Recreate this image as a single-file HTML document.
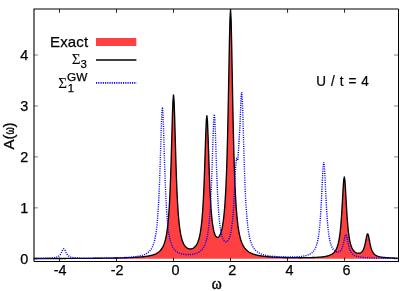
<!DOCTYPE html>
<html><head><meta charset="utf-8"><style>
html,body{margin:0;padding:0;background:#fff;}
svg{display:block;}
text{font-family:"Liberation Sans",sans-serif;font-size:14.4px;fill:#000;stroke:#000;stroke-width:0.25px;}
.ser{font-family:"Liberation Serif",serif;}
</style></head><body>
<svg width="415" height="291" viewBox="0 0 415 291">
<defs><filter id="idf" x="0" y="0" width="415" height="291" filterUnits="userSpaceOnUse" color-interpolation-filters="sRGB"><feOffset dx="0" dy="0"/></filter></defs>
<rect width="415" height="291" fill="#fff"/>
<path d="M33.81 258.53 L34.38 258.53 L34.95 258.53 L35.52 258.53 L36.09 258.53 L36.66 258.53 L37.23 258.53 L37.80 258.53 L38.37 258.53 L38.94 258.52 L39.51 258.52 L40.08 258.52 L40.65 258.52 L41.22 258.52 L41.79 258.52 L42.36 258.52 L42.93 258.51 L43.50 258.51 L44.07 258.51 L44.64 258.51 L45.21 258.51 L45.79 258.51 L46.36 258.51 L46.93 258.51 L47.50 258.50 L48.07 258.50 L48.64 258.50 L49.21 258.50 L49.78 258.50 L50.35 258.50 L50.92 258.49 L51.49 258.49 L52.06 258.49 L52.63 258.49 L53.20 258.49 L53.77 258.49 L54.34 258.48 L54.91 258.48 L55.48 258.48 L56.05 258.48 L56.62 258.48 L57.19 258.48 L57.76 258.47 L58.33 258.47 L58.90 258.47 L59.47 258.47 L60.04 258.47 L60.61 258.46 L61.18 258.46 L61.75 258.46 L62.32 258.46 L62.89 258.46 L63.46 258.45 L64.03 258.45 L64.60 258.45 L65.17 258.45 L65.74 258.45 L66.31 258.44 L66.88 258.44 L67.45 258.44 L68.02 258.44 L68.59 258.43 L69.16 258.43 L69.73 258.43 L70.30 258.43 L70.87 258.42 L71.44 258.42 L72.01 258.42 L72.58 258.42 L73.15 258.41 L73.72 258.41 L74.30 258.41 L74.87 258.41 L75.44 258.40 L76.01 258.40 L76.58 258.40 L77.15 258.39 L77.72 258.39 L78.29 258.39 L78.86 258.39 L79.43 258.38 L80.00 258.38 L80.57 258.38 L81.14 258.37 L81.71 258.37 L82.28 258.37 L82.85 258.36 L83.42 258.36 L83.99 258.36 L84.56 258.35 L85.13 258.35 L85.70 258.34 L86.27 258.34 L86.84 258.34 L87.41 258.33 L87.98 258.33 L88.55 258.33 L89.12 258.32 L89.69 258.32 L90.26 258.31 L90.83 258.31 L91.40 258.30 L91.97 258.30 L92.54 258.30 L93.11 258.29 L93.68 258.29 L94.25 258.28 L94.82 258.28 L95.39 258.27 L95.96 258.27 L96.53 258.26 L97.10 258.26 L97.67 258.25 L98.24 258.24 L98.81 258.24 L99.38 258.23 L99.95 258.23 L100.52 258.22 L101.09 258.22 L101.66 258.21 L102.23 258.20 L102.81 258.20 L103.38 258.19 L103.95 258.18 L104.52 258.18 L105.09 258.17 L105.66 258.16 L106.23 258.15 L106.80 258.15 L107.37 258.14 L107.94 258.13 L108.51 258.12 L109.08 258.12 L109.65 258.11 L110.22 258.10 L110.79 258.09 L111.36 258.08 L111.93 258.07 L112.50 258.06 L113.07 258.05 L113.64 258.04 L114.21 258.03 L114.78 258.02 L115.35 258.01 L115.92 258.00 L116.49 257.99 L117.06 257.98 L117.63 257.97 L118.20 257.95 L118.77 257.94 L119.34 257.93 L119.91 257.91 L120.48 257.90 L121.05 257.89 L121.62 257.87 L122.19 257.86 L122.76 257.84 L123.33 257.83 L123.90 257.81 L124.47 257.79 L125.04 257.78 L125.61 257.76 L126.18 257.74 L126.75 257.72 L127.32 257.70 L127.89 257.68 L128.46 257.66 L129.03 257.64 L129.60 257.62 L130.17 257.59 L130.75 257.57 L131.32 257.55 L131.89 257.52 L132.46 257.49 L133.03 257.47 L133.60 257.44 L134.17 257.41 L134.74 257.38 L135.31 257.34 L135.88 257.31 L136.45 257.27 L137.02 257.24 L137.59 257.20 L138.16 257.16 L138.73 257.12 L139.30 257.08 L139.87 257.03 L140.44 256.98 L141.01 256.93 L141.58 256.88 L142.15 256.83 L142.72 256.77 L143.29 256.71 L143.86 256.65 L144.43 256.58 L145.00 256.51 L145.57 256.43 L146.14 256.35 L146.71 256.27 L147.28 256.18 L147.85 256.09 L148.42 255.99 L148.99 255.88 L149.56 255.77 L150.13 255.64 L150.70 255.51 L151.27 255.37 L151.84 255.23 L152.41 255.06 L152.98 254.89 L153.55 254.70 L154.12 254.50 L154.69 254.28 L155.26 254.04 L155.83 253.78 L156.40 253.49 L156.97 253.18 L157.54 252.83 L158.11 252.45 L158.68 252.02 L159.25 251.55 L159.83 251.03 L160.40 250.43 L160.97 249.77 L161.54 249.01 L162.11 248.15 L162.68 247.17 L163.25 246.03 L163.82 244.71 L164.39 243.17 L164.96 241.36 L165.53 239.20 L166.10 236.62 L166.67 233.51 L167.24 229.70 L167.81 225.00 L168.38 219.16 L168.95 211.82 L169.52 202.56 L170.09 190.85 L170.66 176.19 L171.23 158.35 L171.80 137.96 L172.37 117.36 L172.94 101.19 L173.51 94.91 L174.08 101.10 L174.65 117.18 L175.22 137.68 L175.79 157.98 L176.36 175.72 L176.93 190.28 L177.50 201.89 L178.07 211.06 L178.64 218.29 L179.21 224.03 L179.78 228.61 L180.35 232.31 L180.92 235.31 L181.49 237.77 L182.06 239.80 L182.63 241.48 L183.20 242.89 L183.77 244.06 L184.34 245.05 L184.91 245.88 L185.48 246.57 L186.05 247.15 L186.62 247.63 L187.19 248.02 L187.76 248.33 L188.34 248.57 L188.91 248.74 L189.48 248.85 L190.05 248.91 L190.62 248.90 L191.19 248.84 L191.76 248.72 L192.33 248.54 L192.90 248.30 L193.47 247.98 L194.04 247.59 L194.61 247.12 L195.18 246.55 L195.75 245.86 L196.32 245.05 L196.89 244.09 L197.46 242.95 L198.03 241.58 L198.60 239.95 L199.17 237.98 L199.74 235.60 L200.31 232.68 L200.88 229.10 L201.45 224.64 L202.02 219.06 L202.59 212.02 L203.16 203.11 L203.45 197.82 L204.02 185.28 L204.59 170.03 L205.16 152.58 L205.73 134.95 L206.30 121.08 L206.87 115.64 L207.44 120.83 L208.01 134.44 L208.58 151.80 L209.15 168.98 L209.72 183.96 L210.29 196.21 L210.57 201.36 L211.14 209.96 L211.71 216.67 L212.28 221.91 L212.85 225.99 L213.42 229.18 L213.99 231.66 L214.56 233.57 L215.13 235.02 L215.70 236.09 L216.27 236.82 L216.85 237.26 L217.42 237.43 L217.99 237.35 L218.56 237.01 L219.13 236.42 L219.70 235.56 L220.27 234.40 L220.84 232.91 L221.41 231.03 L221.98 228.69 L222.55 225.79 L223.12 222.22 L223.69 217.80 L224.26 212.31 L224.83 205.45 L225.40 196.83 L225.97 185.92 L226.54 172.07 L227.11 154.48 L227.68 132.41 L228.25 105.50 L228.82 74.69 L229.39 43.57 L229.96 19.17 L230.53 9.79 L231.10 19.37 L231.67 43.98 L232.24 75.31 L232.81 106.33 L233.38 133.46 L233.95 155.75 L234.52 173.56 L235.09 187.66 L235.66 198.82 L236.23 207.71 L236.80 214.86 L237.37 220.65 L237.94 225.40 L238.51 229.32 L239.08 232.60 L239.65 235.36 L240.22 237.71 L240.79 239.71 L241.36 241.44 L241.93 242.94 L242.50 244.25 L243.07 245.39 L243.64 246.41 L244.21 247.30 L244.78 248.10 L245.36 248.82 L245.93 249.46 L246.50 250.04 L247.07 250.57 L247.64 251.04 L248.21 251.48 L248.78 251.87 L249.35 252.23 L249.92 252.57 L250.49 252.87 L251.06 253.15 L251.63 253.41 L252.20 253.66 L252.77 253.88 L253.34 254.09 L253.91 254.28 L254.48 254.46 L255.05 254.63 L255.62 254.79 L256.19 254.94 L256.76 255.08 L257.33 255.21 L257.90 255.34 L258.47 255.45 L259.04 255.56 L259.61 255.66 L260.18 255.76 L260.75 255.86 L261.32 255.94 L261.89 256.03 L262.46 256.11 L263.03 256.18 L263.60 256.25 L264.17 256.32 L264.74 256.39 L265.31 256.45 L265.88 256.51 L266.45 256.56 L267.02 256.62 L267.59 256.67 L268.16 256.72 L268.73 256.76 L269.30 256.81 L269.87 256.85 L270.44 256.89 L271.01 256.93 L271.58 256.97 L272.15 257.00 L272.72 257.04 L273.30 257.07 L273.87 257.10 L274.44 257.13 L275.01 257.16 L275.58 257.19 L276.15 257.22 L276.72 257.24 L277.29 257.27 L277.86 257.29 L278.43 257.32 L279.00 257.34 L279.57 257.36 L280.14 257.38 L280.71 257.40 L281.28 257.42 L281.85 257.44 L282.42 257.45 L282.99 257.47 L283.56 257.48 L284.13 257.50 L284.70 257.51 L285.27 257.53 L285.84 257.54 L286.41 257.55 L286.98 257.57 L287.55 257.58 L288.12 257.59 L288.69 257.60 L289.26 257.61 L289.83 257.62 L290.40 257.63 L290.97 257.63 L291.54 257.64 L292.11 257.65 L292.68 257.66 L293.25 257.66 L293.82 257.67 L294.39 257.67 L294.96 257.68 L295.53 257.68 L296.10 257.69 L296.67 257.69 L297.24 257.69 L297.81 257.69 L298.38 257.70 L298.95 257.70 L299.52 257.70 L300.09 257.70 L300.66 257.70 L301.23 257.70 L301.81 257.69 L302.38 257.69 L302.95 257.69 L303.52 257.69 L304.09 257.68 L304.66 257.68 L305.23 257.67 L305.80 257.66 L306.37 257.66 L306.94 257.65 L307.51 257.64 L308.08 257.63 L308.65 257.62 L309.22 257.61 L309.79 257.60 L310.36 257.58 L310.93 257.57 L311.50 257.55 L312.07 257.54 L312.64 257.52 L313.21 257.50 L313.78 257.48 L314.35 257.46 L314.92 257.43 L315.49 257.41 L316.06 257.38 L316.63 257.35 L317.20 257.31 L317.77 257.28 L318.34 257.24 L318.91 257.20 L319.48 257.16 L320.05 257.11 L320.62 257.06 L321.19 257.00 L321.76 256.95 L322.33 256.88 L322.90 256.81 L323.47 256.74 L324.04 256.65 L324.61 256.56 L325.18 256.47 L325.75 256.36 L326.32 256.24 L326.89 256.11 L327.46 255.97 L328.03 255.82 L328.60 255.64 L329.17 255.45 L329.74 255.23 L330.31 254.99 L330.89 254.72 L331.46 254.42 L332.03 254.07 L332.60 253.68 L333.17 253.23 L333.74 252.71 L334.31 252.10 L334.88 251.40 L335.45 250.58 L336.02 249.60 L336.59 248.43 L337.16 247.02 L337.73 245.31 L338.30 243.21 L338.87 240.60 L339.44 237.34 L340.01 233.23 L340.58 228.03 L340.86 224.94 L341.43 217.62 L342.00 208.71 L342.57 198.52 L343.14 188.23 L343.71 180.15 L344.28 177.02 L344.86 180.13 L345.43 188.17 L346.00 198.43 L346.57 208.59 L347.14 217.47 L347.71 224.76 L347.99 227.83 L348.56 233.00 L349.13 237.07 L349.70 240.30 L350.27 242.86 L350.84 244.92 L351.41 246.58 L351.98 247.94 L352.55 249.05 L353.12 249.96 L353.69 250.72 L354.26 251.34 L354.83 251.85 L355.40 252.27 L355.97 252.61 L356.54 252.87 L357.11 253.07 L357.68 253.20 L358.25 253.27 L358.82 253.27 L359.40 253.21 L359.97 253.06 L360.54 252.83 L361.11 252.50 L361.68 252.03 L362.25 251.41 L362.82 250.58 L363.39 249.50 L363.96 248.10 L364.24 247.25 L364.81 245.22 L365.38 242.72 L365.95 239.84 L366.52 236.93 L367.09 234.66 L367.66 233.82 L368.23 234.78 L368.80 237.17 L369.37 240.20 L369.94 243.20 L370.51 245.82 L371.08 247.98 L371.37 248.90 L371.94 250.44 L372.51 251.66 L373.08 252.64 L373.65 253.43 L374.22 254.06 L374.79 254.59 L375.36 255.02 L375.93 255.38 L376.50 255.69 L377.07 255.95 L377.64 256.17 L378.21 256.37 L378.78 256.54 L379.35 256.69 L379.92 256.82 L380.49 256.94 L381.06 257.04 L381.63 257.14 L382.20 257.22 L382.77 257.30 L383.34 257.37 L383.91 257.43 L384.48 257.49 L385.05 257.54 L385.62 257.59 L386.19 257.64 L386.76 257.68 L387.34 257.72 L387.91 257.75 L388.48 257.79 L389.05 257.82 L389.62 257.85 L390.19 257.88 L390.76 257.90 L391.33 257.93 L391.90 257.95 L392.47 257.97 L393.04 257.99 L393.61 258.01 L394.18 258.03 L394.75 258.05 L395.32 258.07 L395.89 258.08 L396.46 258.10 L397.03 258.11 L397.60 258.13 L397.60 258.70 L33.81 258.70 Z" fill="#fe4040" stroke="none"/>
<path d="M33.81 258.53 L34.38 258.53 L34.95 258.53 L35.52 258.53 L36.09 258.53 L36.66 258.53 L37.23 258.53 L37.80 258.53 L38.37 258.53 L38.94 258.52 L39.51 258.52 L40.08 258.52 L40.65 258.52 L41.22 258.52 L41.79 258.52 L42.36 258.52 L42.93 258.51 L43.50 258.51 L44.07 258.51 L44.64 258.51 L45.21 258.51 L45.79 258.51 L46.36 258.51 L46.93 258.51 L47.50 258.50 L48.07 258.50 L48.64 258.50 L49.21 258.50 L49.78 258.50 L50.35 258.50 L50.92 258.49 L51.49 258.49 L52.06 258.49 L52.63 258.49 L53.20 258.49 L53.77 258.49 L54.34 258.48 L54.91 258.48 L55.48 258.48 L56.05 258.48 L56.62 258.48 L57.19 258.48 L57.76 258.47 L58.33 258.47 L58.90 258.47 L59.47 258.47 L60.04 258.47 L60.61 258.46 L61.18 258.46 L61.75 258.46 L62.32 258.46 L62.89 258.46 L63.46 258.45 L64.03 258.45 L64.60 258.45 L65.17 258.45 L65.74 258.45 L66.31 258.44 L66.88 258.44 L67.45 258.44 L68.02 258.44 L68.59 258.43 L69.16 258.43 L69.73 258.43 L70.30 258.43 L70.87 258.42 L71.44 258.42 L72.01 258.42 L72.58 258.42 L73.15 258.41 L73.72 258.41 L74.30 258.41 L74.87 258.41 L75.44 258.40 L76.01 258.40 L76.58 258.40 L77.15 258.39 L77.72 258.39 L78.29 258.39 L78.86 258.39 L79.43 258.38 L80.00 258.38 L80.57 258.38 L81.14 258.37 L81.71 258.37 L82.28 258.37 L82.85 258.36 L83.42 258.36 L83.99 258.36 L84.56 258.35 L85.13 258.35 L85.70 258.34 L86.27 258.34 L86.84 258.34 L87.41 258.33 L87.98 258.33 L88.55 258.33 L89.12 258.32 L89.69 258.32 L90.26 258.31 L90.83 258.31 L91.40 258.30 L91.97 258.30 L92.54 258.30 L93.11 258.29 L93.68 258.29 L94.25 258.28 L94.82 258.28 L95.39 258.27 L95.96 258.27 L96.53 258.26 L97.10 258.26 L97.67 258.25 L98.24 258.24 L98.81 258.24 L99.38 258.23 L99.95 258.23 L100.52 258.22 L101.09 258.22 L101.66 258.21 L102.23 258.20 L102.81 258.20 L103.38 258.19 L103.95 258.18 L104.52 258.18 L105.09 258.17 L105.66 258.16 L106.23 258.15 L106.80 258.15 L107.37 258.14 L107.94 258.13 L108.51 258.12 L109.08 258.12 L109.65 258.11 L110.22 258.10 L110.79 258.09 L111.36 258.08 L111.93 258.07 L112.50 258.06 L113.07 258.05 L113.64 258.04 L114.21 258.03 L114.78 258.02 L115.35 258.01 L115.92 258.00 L116.49 257.99 L117.06 257.98 L117.63 257.97 L118.20 257.95 L118.77 257.94 L119.34 257.93 L119.91 257.91 L120.48 257.90 L121.05 257.89 L121.62 257.87 L122.19 257.86 L122.76 257.84 L123.33 257.83 L123.90 257.81 L124.47 257.79 L125.04 257.78 L125.61 257.76 L126.18 257.74 L126.75 257.72 L127.32 257.70 L127.89 257.68 L128.46 257.66 L129.03 257.64 L129.60 257.62 L130.17 257.59 L130.75 257.57 L131.32 257.55 L131.89 257.52 L132.46 257.49 L133.03 257.47 L133.60 257.44 L134.17 257.41 L134.74 257.38 L135.31 257.34 L135.88 257.31 L136.45 257.27 L137.02 257.24 L137.59 257.20 L138.16 257.16 L138.73 257.12 L139.30 257.08 L139.87 257.03 L140.44 256.98 L141.01 256.93 L141.58 256.88 L142.15 256.83 L142.72 256.77 L143.29 256.71 L143.86 256.65 L144.43 256.58 L145.00 256.51 L145.57 256.43 L146.14 256.35 L146.71 256.27 L147.28 256.18 L147.85 256.09 L148.42 255.99 L148.99 255.88 L149.56 255.77 L150.13 255.64 L150.70 255.51 L151.27 255.37 L151.84 255.23 L152.41 255.06 L152.98 254.89 L153.55 254.70 L154.12 254.50 L154.69 254.28 L155.26 254.04 L155.83 253.78 L156.40 253.49 L156.97 253.18 L157.54 252.83 L158.11 252.45 L158.68 252.02 L159.25 251.55 L159.83 251.03 L160.40 250.43 L160.97 249.77 L161.54 249.01 L162.11 248.15 L162.68 247.17 L163.25 246.03 L163.82 244.71 L164.39 243.17 L164.96 241.36 L165.53 239.20 L166.10 236.62 L166.67 233.51 L167.24 229.70 L167.81 225.00 L168.38 219.16 L168.95 211.82 L169.52 202.56 L170.09 190.85 L170.66 176.19 L171.23 158.35 L171.80 137.96 L172.37 117.36 L172.94 101.19 L173.51 94.91 L174.08 101.10 L174.65 117.18 L175.22 137.68 L175.79 157.98 L176.36 175.72 L176.93 190.28 L177.50 201.89 L178.07 211.06 L178.64 218.29 L179.21 224.03 L179.78 228.61 L180.35 232.31 L180.92 235.31 L181.49 237.77 L182.06 239.80 L182.63 241.48 L183.20 242.89 L183.77 244.06 L184.34 245.05 L184.91 245.88 L185.48 246.57 L186.05 247.15 L186.62 247.63 L187.19 248.02 L187.76 248.33 L188.34 248.57 L188.91 248.74 L189.48 248.85 L190.05 248.91 L190.62 248.90 L191.19 248.84 L191.76 248.72 L192.33 248.54 L192.90 248.30 L193.47 247.98 L194.04 247.59 L194.61 247.12 L195.18 246.55 L195.75 245.86 L196.32 245.05 L196.89 244.09 L197.46 242.95 L198.03 241.58 L198.60 239.95 L199.17 237.98 L199.74 235.60 L200.31 232.68 L200.88 229.10 L201.45 224.64 L202.02 219.06 L202.59 212.02 L203.16 203.11 L203.45 197.82 L204.02 185.28 L204.59 170.03 L205.16 152.58 L205.73 134.95 L206.30 121.08 L206.87 115.64 L207.44 120.83 L208.01 134.44 L208.58 151.80 L209.15 168.98 L209.72 183.96 L210.29 196.21 L210.57 201.36 L211.14 209.96 L211.71 216.67 L212.28 221.91 L212.85 225.99 L213.42 229.18 L213.99 231.66 L214.56 233.57 L215.13 235.02 L215.70 236.09 L216.27 236.82 L216.85 237.26 L217.42 237.43 L217.99 237.35 L218.56 237.01 L219.13 236.42 L219.70 235.56 L220.27 234.40 L220.84 232.91 L221.41 231.03 L221.98 228.69 L222.55 225.79 L223.12 222.22 L223.69 217.80 L224.26 212.31 L224.83 205.45 L225.40 196.83 L225.97 185.92 L226.54 172.07 L227.11 154.48 L227.68 132.41 L228.25 105.50 L228.82 74.69 L229.39 43.57 L229.96 19.17 L230.53 9.79 L231.10 19.37 L231.67 43.98 L232.24 75.31 L232.81 106.33 L233.38 133.46 L233.95 155.75 L234.52 173.56 L235.09 187.66 L235.66 198.82 L236.23 207.71 L236.80 214.86 L237.37 220.65 L237.94 225.40 L238.51 229.32 L239.08 232.60 L239.65 235.36 L240.22 237.71 L240.79 239.71 L241.36 241.44 L241.93 242.94 L242.50 244.25 L243.07 245.39 L243.64 246.41 L244.21 247.30 L244.78 248.10 L245.36 248.82 L245.93 249.46 L246.50 250.04 L247.07 250.57 L247.64 251.04 L248.21 251.48 L248.78 251.87 L249.35 252.23 L249.92 252.57 L250.49 252.87 L251.06 253.15 L251.63 253.41 L252.20 253.66 L252.77 253.88 L253.34 254.09 L253.91 254.28 L254.48 254.46 L255.05 254.63 L255.62 254.79 L256.19 254.94 L256.76 255.08 L257.33 255.21 L257.90 255.34 L258.47 255.45 L259.04 255.56 L259.61 255.66 L260.18 255.76 L260.75 255.86 L261.32 255.94 L261.89 256.03 L262.46 256.11 L263.03 256.18 L263.60 256.25 L264.17 256.32 L264.74 256.39 L265.31 256.45 L265.88 256.51 L266.45 256.56 L267.02 256.62 L267.59 256.67 L268.16 256.72 L268.73 256.76 L269.30 256.81 L269.87 256.85 L270.44 256.89 L271.01 256.93 L271.58 256.97 L272.15 257.00 L272.72 257.04 L273.30 257.07 L273.87 257.10 L274.44 257.13 L275.01 257.16 L275.58 257.19 L276.15 257.22 L276.72 257.24 L277.29 257.27 L277.86 257.29 L278.43 257.32 L279.00 257.34 L279.57 257.36 L280.14 257.38 L280.71 257.40 L281.28 257.42 L281.85 257.44 L282.42 257.45 L282.99 257.47 L283.56 257.48 L284.13 257.50 L284.70 257.51 L285.27 257.53 L285.84 257.54 L286.41 257.55 L286.98 257.57 L287.55 257.58 L288.12 257.59 L288.69 257.60 L289.26 257.61 L289.83 257.62 L290.40 257.63 L290.97 257.63 L291.54 257.64 L292.11 257.65 L292.68 257.66 L293.25 257.66 L293.82 257.67 L294.39 257.67 L294.96 257.68 L295.53 257.68 L296.10 257.69 L296.67 257.69 L297.24 257.69 L297.81 257.69 L298.38 257.70 L298.95 257.70 L299.52 257.70 L300.09 257.70 L300.66 257.70 L301.23 257.70 L301.81 257.69 L302.38 257.69 L302.95 257.69 L303.52 257.69 L304.09 257.68 L304.66 257.68 L305.23 257.67 L305.80 257.66 L306.37 257.66 L306.94 257.65 L307.51 257.64 L308.08 257.63 L308.65 257.62 L309.22 257.61 L309.79 257.60 L310.36 257.58 L310.93 257.57 L311.50 257.55 L312.07 257.54 L312.64 257.52 L313.21 257.50 L313.78 257.48 L314.35 257.46 L314.92 257.43 L315.49 257.41 L316.06 257.38 L316.63 257.35 L317.20 257.31 L317.77 257.28 L318.34 257.24 L318.91 257.20 L319.48 257.16 L320.05 257.11 L320.62 257.06 L321.19 257.00 L321.76 256.95 L322.33 256.88 L322.90 256.81 L323.47 256.74 L324.04 256.65 L324.61 256.56 L325.18 256.47 L325.75 256.36 L326.32 256.24 L326.89 256.11 L327.46 255.97 L328.03 255.82 L328.60 255.64 L329.17 255.45 L329.74 255.23 L330.31 254.99 L330.89 254.72 L331.46 254.42 L332.03 254.07 L332.60 253.68 L333.17 253.23 L333.74 252.71 L334.31 252.10 L334.88 251.40 L335.45 250.58 L336.02 249.60 L336.59 248.43 L337.16 247.02 L337.73 245.31 L338.30 243.21 L338.87 240.60 L339.44 237.34 L340.01 233.23 L340.58 228.03 L340.86 224.94 L341.43 217.62 L342.00 208.71 L342.57 198.52 L343.14 188.23 L343.71 180.15 L344.28 177.02 L344.86 180.13 L345.43 188.17 L346.00 198.43 L346.57 208.59 L347.14 217.47 L347.71 224.76 L347.99 227.83 L348.56 233.00 L349.13 237.07 L349.70 240.30 L350.27 242.86 L350.84 244.92 L351.41 246.58 L351.98 247.94 L352.55 249.05 L353.12 249.96 L353.69 250.72 L354.26 251.34 L354.83 251.85 L355.40 252.27 L355.97 252.61 L356.54 252.87 L357.11 253.07 L357.68 253.20 L358.25 253.27 L358.82 253.27 L359.40 253.21 L359.97 253.06 L360.54 252.83 L361.11 252.50 L361.68 252.03 L362.25 251.41 L362.82 250.58 L363.39 249.50 L363.96 248.10 L364.24 247.25 L364.81 245.22 L365.38 242.72 L365.95 239.84 L366.52 236.93 L367.09 234.66 L367.66 233.82 L368.23 234.78 L368.80 237.17 L369.37 240.20 L369.94 243.20 L370.51 245.82 L371.08 247.98 L371.37 248.90 L371.94 250.44 L372.51 251.66 L373.08 252.64 L373.65 253.43 L374.22 254.06 L374.79 254.59 L375.36 255.02 L375.93 255.38 L376.50 255.69 L377.07 255.95 L377.64 256.17 L378.21 256.37 L378.78 256.54 L379.35 256.69 L379.92 256.82 L380.49 256.94 L381.06 257.04 L381.63 257.14 L382.20 257.22 L382.77 257.30 L383.34 257.37 L383.91 257.43 L384.48 257.49 L385.05 257.54 L385.62 257.59 L386.19 257.64 L386.76 257.68 L387.34 257.72 L387.91 257.75 L388.48 257.79 L389.05 257.82 L389.62 257.85 L390.19 257.88 L390.76 257.90 L391.33 257.93 L391.90 257.95 L392.47 257.97 L393.04 257.99 L393.61 258.01 L394.18 258.03 L394.75 258.05 L395.32 258.07 L395.89 258.08 L396.46 258.10 L397.03 258.11 L397.60 258.13" fill="none" stroke="#000" stroke-width="1.35" stroke-linejoin="round"/>
<path d="M33.81 258.45 L34.38 258.45 L34.95 258.44 L35.52 258.44 L36.09 258.43 L36.66 258.43 L37.23 258.42 L37.80 258.42 L38.37 258.41 L38.94 258.40 L39.51 258.40 L40.08 258.39 L40.65 258.38 L41.22 258.37 L41.79 258.36 L42.36 258.35 L42.93 258.34 L43.50 258.33 L44.07 258.32 L44.64 258.30 L45.21 258.29 L45.79 258.27 L46.36 258.26 L46.93 258.24 L47.50 258.22 L48.07 258.20 L48.64 258.17 L49.21 258.14 L49.78 258.11 L50.35 258.08 L50.92 258.04 L51.49 258.00 L52.06 257.95 L52.63 257.89 L53.20 257.83 L53.77 257.76 L54.34 257.67 L54.91 257.57 L55.48 257.45 L56.05 257.31 L56.62 257.14 L57.19 256.93 L57.76 256.68 L58.33 256.37 L58.90 255.97 L59.47 255.48 L60.04 254.85 L60.33 254.48 L60.90 253.60 L61.47 252.53 L62.04 251.31 L62.61 250.07 L63.18 249.10 L63.75 248.73 L64.32 249.10 L64.89 250.07 L65.46 251.30 L66.03 252.52 L66.60 253.58 L67.17 254.46 L67.45 254.82 L68.02 255.45 L68.59 255.94 L69.16 256.32 L69.73 256.63 L70.30 256.88 L70.87 257.08 L71.44 257.25 L72.01 257.39 L72.58 257.50 L73.15 257.60 L73.72 257.68 L74.30 257.75 L74.87 257.81 L75.44 257.86 L76.01 257.90 L76.58 257.94 L77.15 257.97 L77.72 258.00 L78.29 258.03 L78.86 258.05 L79.43 258.07 L80.00 258.09 L80.57 258.10 L81.14 258.11 L81.71 258.13 L82.28 258.14 L82.85 258.15 L83.42 258.15 L83.99 258.16 L84.56 258.17 L85.13 258.17 L85.70 258.18 L86.27 258.18 L86.84 258.18 L87.41 258.18 L87.98 258.19 L88.55 258.19 L89.12 258.19 L89.69 258.19 L90.26 258.19 L90.83 258.19 L91.40 258.19 L91.97 258.19 L92.54 258.18 L93.11 258.18 L93.68 258.18 L94.25 258.18 L94.82 258.17 L95.39 258.17 L95.96 258.17 L96.53 258.16 L97.10 258.16 L97.67 258.16 L98.24 258.15 L98.81 258.15 L99.38 258.14 L99.95 258.14 L100.52 258.13 L101.09 258.12 L101.66 258.12 L102.23 258.11 L102.81 258.11 L103.38 258.10 L103.95 258.09 L104.52 258.08 L105.09 258.08 L105.66 258.07 L106.23 258.06 L106.80 258.05 L107.37 258.04 L107.94 258.03 L108.51 258.02 L109.08 258.01 L109.65 258.00 L110.22 257.99 L110.79 257.98 L111.36 257.97 L111.93 257.96 L112.50 257.94 L113.07 257.93 L113.64 257.92 L114.21 257.90 L114.78 257.89 L115.35 257.87 L115.92 257.86 L116.49 257.84 L117.06 257.83 L117.63 257.81 L118.20 257.79 L118.77 257.77 L119.34 257.75 L119.91 257.73 L120.48 257.71 L121.05 257.69 L121.62 257.67 L122.19 257.65 L122.76 257.62 L123.33 257.60 L123.90 257.57 L124.47 257.54 L125.04 257.51 L125.61 257.48 L126.18 257.45 L126.75 257.42 L127.32 257.39 L127.89 257.35 L128.46 257.31 L129.03 257.27 L129.60 257.23 L130.17 257.19 L130.75 257.14 L131.32 257.09 L131.89 257.04 L132.46 256.99 L133.03 256.93 L133.60 256.87 L134.17 256.81 L134.74 256.74 L135.31 256.67 L135.88 256.60 L136.45 256.52 L137.02 256.43 L137.59 256.34 L138.16 256.24 L138.73 256.14 L139.30 256.03 L139.87 255.91 L140.44 255.78 L141.01 255.64 L141.58 255.49 L142.15 255.33 L142.72 255.16 L143.29 254.97 L143.86 254.76 L144.43 254.54 L145.00 254.29 L145.57 254.02 L146.14 253.72 L146.71 253.39 L147.28 253.03 L147.85 252.62 L148.42 252.17 L148.99 251.66 L149.56 251.09 L150.13 250.44 L150.70 249.70 L151.27 248.86 L151.84 247.89 L152.41 246.76 L152.98 245.45 L153.55 243.92 L154.12 242.09 L154.69 239.92 L155.26 237.30 L155.83 234.12 L156.40 230.21 L156.97 225.36 L157.54 219.30 L158.11 211.65 L158.68 201.98 L158.97 196.23 L159.54 182.62 L160.11 166.06 L160.68 147.12 L161.25 127.99 L161.82 112.98 L162.39 107.16 L162.96 112.95 L163.53 127.93 L164.10 147.04 L164.67 165.95 L165.24 182.49 L165.81 196.07 L166.10 201.80 L166.67 211.45 L167.24 219.06 L167.81 225.10 L168.38 229.92 L168.95 233.80 L169.52 236.95 L170.09 239.54 L170.66 241.69 L171.23 243.48 L171.80 244.98 L172.37 246.26 L172.94 247.35 L173.51 248.29 L174.08 249.10 L174.65 249.80 L175.22 250.42 L175.79 250.95 L176.36 251.42 L176.93 251.84 L177.50 252.20 L178.07 252.53 L178.64 252.81 L179.21 253.07 L179.78 253.29 L180.35 253.49 L180.92 253.67 L181.49 253.82 L182.06 253.96 L182.63 254.08 L183.20 254.18 L183.77 254.27 L184.34 254.35 L184.91 254.41 L185.48 254.46 L186.05 254.50 L186.62 254.53 L187.19 254.54 L187.76 254.55 L188.34 254.55 L188.91 254.53 L189.48 254.51 L190.05 254.47 L190.62 254.43 L191.19 254.37 L191.76 254.30 L192.33 254.22 L192.90 254.13 L193.47 254.02 L194.04 253.90 L194.61 253.77 L195.18 253.61 L195.75 253.44 L196.32 253.25 L196.89 253.04 L197.46 252.80 L198.03 252.53 L198.60 252.23 L199.17 251.90 L199.74 251.52 L200.31 251.10 L200.88 250.62 L201.45 250.08 L202.02 249.47 L202.59 248.77 L203.16 247.97 L203.73 247.05 L204.30 245.99 L204.87 244.74 L205.44 243.28 L206.01 241.55 L206.58 239.49 L207.15 237.00 L207.72 233.99 L208.29 230.29 L208.86 225.71 L209.43 219.98 L210.00 212.77 L210.57 203.65 L210.86 198.23 L211.43 185.42 L212.00 169.83 L212.57 152.00 L213.14 133.99 L213.71 119.84 L214.28 114.30 L214.85 119.64 L215.42 133.59 L215.99 151.39 L216.56 169.01 L217.13 184.38 L217.70 196.97 L217.99 202.28 L218.56 211.15 L219.13 218.12 L219.70 223.58 L220.27 227.89 L220.84 231.29 L221.41 233.99 L221.98 236.13 L222.55 237.81 L223.12 239.14 L223.69 240.15 L224.26 240.90 L224.83 241.41 L225.40 241.71 L225.97 241.82 L226.54 241.72 L227.11 241.43 L227.68 240.92 L228.25 240.19 L228.82 239.19 L229.39 237.87 L229.96 236.18 L230.53 234.02 L231.10 231.27 L231.67 227.75 L232.24 223.22 L232.67 218.99 L233.24 211.96 L233.81 203.04 L234.38 192.16 L234.95 180.05 L235.52 168.80 L236.09 161.32 L236.66 158.97 L237.23 159.82 L237.80 160.33 L240.05 125.09 L240.62 108.89 L241.19 96.16 L241.76 92.27 L242.33 99.82 L242.90 116.46 L243.47 137.08 L244.04 157.31 L244.61 174.97 L245.18 189.49 L245.36 193.26 L245.93 204.11 L246.50 212.73 L247.07 219.58 L247.64 225.08 L248.21 229.52 L248.78 233.16 L249.35 236.15 L249.92 238.65 L250.49 240.75 L251.06 242.53 L251.63 244.05 L252.20 245.36 L252.77 246.50 L253.34 247.49 L253.91 248.35 L254.48 249.12 L255.05 249.80 L255.62 250.40 L256.19 250.94 L256.76 251.43 L257.33 251.87 L257.90 252.26 L258.47 252.62 L259.04 252.95 L259.61 253.25 L260.18 253.52 L260.75 253.77 L261.32 254.00 L261.89 254.21 L262.46 254.41 L263.03 254.59 L263.60 254.76 L264.17 254.91 L264.74 255.06 L265.31 255.19 L265.88 255.32 L266.45 255.44 L267.02 255.55 L267.59 255.65 L268.16 255.75 L268.73 255.84 L269.30 255.92 L269.87 256.00 L270.44 256.08 L271.01 256.15 L271.58 256.22 L272.15 256.28 L272.72 256.34 L273.30 256.39 L273.87 256.44 L274.44 256.49 L275.01 256.54 L275.58 256.58 L276.15 256.62 L276.72 256.66 L277.29 256.70 L277.86 256.73 L278.43 256.76 L279.00 256.79 L279.57 256.82 L280.14 256.84 L280.71 256.87 L281.28 256.89 L281.85 256.91 L282.42 256.93 L282.99 256.94 L283.56 256.96 L284.13 256.97 L284.70 256.98 L285.27 256.99 L285.84 257.00 L286.41 257.01 L286.98 257.01 L287.55 257.02 L288.12 257.02 L288.69 257.02 L289.26 257.02 L289.83 257.01 L290.40 257.01 L290.97 257.00 L291.54 256.99 L292.11 256.98 L292.68 256.97 L293.25 256.96 L293.82 256.94 L294.39 256.92 L294.96 256.90 L295.53 256.87 L296.10 256.85 L296.67 256.81 L297.24 256.78 L297.81 256.74 L298.38 256.70 L298.95 256.66 L299.52 256.61 L300.09 256.56 L300.66 256.50 L301.23 256.44 L301.81 256.37 L302.38 256.29 L302.95 256.21 L303.52 256.12 L304.09 256.01 L304.66 255.90 L305.23 255.78 L305.80 255.65 L306.37 255.50 L306.94 255.34 L307.51 255.16 L308.08 254.96 L308.65 254.74 L309.22 254.49 L309.79 254.21 L310.36 253.89 L310.93 253.54 L311.50 253.13 L312.07 252.67 L312.64 252.14 L313.21 251.53 L313.78 250.83 L314.35 250.00 L314.92 249.03 L315.49 247.88 L316.06 246.50 L316.63 244.85 L317.20 242.83 L317.77 240.35 L318.34 237.28 L318.91 233.43 L319.48 228.59 L320.05 222.45 L320.34 218.80 L320.91 210.17 L321.48 199.66 L322.05 187.64 L322.62 175.51 L323.19 165.98 L323.76 162.28 L324.33 165.95 L324.90 175.45 L325.47 187.56 L326.04 199.55 L326.61 210.03 L327.18 218.63 L327.46 222.26 L328.03 228.36 L328.60 233.17 L329.17 236.97 L329.74 240.00 L330.31 242.43 L330.89 244.39 L331.46 245.99 L332.03 247.30 L332.60 248.37 L333.17 249.26 L333.74 249.99 L334.31 250.59 L334.88 251.08 L335.45 251.46 L336.02 251.76 L336.59 251.97 L337.16 252.09 L337.73 252.13 L338.30 252.08 L338.87 251.93 L339.44 251.67 L340.01 251.26 L340.58 250.69 L341.15 249.91 L341.72 248.87 L342.29 247.49 L342.43 247.08 L343.00 245.19 L343.57 242.85 L344.14 240.15 L344.71 237.41 L345.28 235.28 L345.85 234.50 L346.42 235.44 L346.99 237.74 L347.56 240.65 L348.13 243.52 L348.70 246.04 L349.27 248.11 L349.70 249.39 L350.27 250.80 L350.84 251.91 L351.41 252.80 L351.98 253.53 L352.55 254.11 L353.12 254.60 L353.69 255.00 L354.26 255.34 L354.83 255.63 L355.40 255.88 L355.97 256.10 L356.54 256.28 L357.11 256.45 L357.68 256.59 L358.25 256.72 L358.82 256.84 L359.40 256.94 L359.97 257.03 L360.54 257.12 L361.11 257.19 L361.68 257.26 L362.25 257.33 L362.82 257.38 L363.39 257.44 L363.96 257.49 L364.53 257.54 L365.10 257.58 L365.67 257.62 L366.24 257.66 L366.81 257.69 L367.38 257.73 L367.95 257.76 L368.52 257.79 L369.09 257.81 L369.66 257.84 L370.23 257.86 L370.80 257.89 L371.37 257.91 L371.94 257.93 L372.51 257.95 L373.08 257.97 L373.65 257.99 L374.22 258.01 L374.79 258.02 L375.36 258.04 L375.93 258.05 L376.50 258.07 L377.07 258.08 L377.64 258.10 L378.21 258.11 L378.78 258.12 L379.35 258.13 L379.92 258.14 L380.49 258.16 L381.06 258.17 L381.63 258.18 L382.20 258.19 L382.77 258.20 L383.34 258.21 L383.91 258.21 L384.48 258.22 L385.05 258.23 L385.62 258.24 L386.19 258.25 L386.76 258.26 L387.34 258.26 L387.91 258.27 L388.48 258.28 L389.05 258.28 L389.62 258.29 L390.19 258.30 L390.76 258.30 L391.33 258.31 L391.90 258.31 L392.47 258.32 L393.04 258.33 L393.61 258.33 L394.18 258.34 L394.75 258.34 L395.32 258.35 L395.89 258.35 L396.46 258.36 L397.03 258.36 L397.60 258.37" fill="none" stroke="#0000ff" stroke-width="1.4" stroke-dasharray="1.1 1.15"/>
<g stroke="#000" stroke-width="1.1" fill="none">
<path d="M34 9V261.5M33.5 9H398.5" />
<path d="M33.5 261.5H399M398.5 9V262" shape-rendering="crispEdges"/>
</g>
<g stroke="#000" stroke-width="0.5" fill="none"><path stroke-width="0.85" d="M59.47 261V257.7M59.47 9V12.8"/><path stroke-width="0.85" d="M116.49 261V257.7M116.49 9V12.8"/><path stroke-width="0.85" d="M173.51 261V257.7M173.51 9V12.8"/><path stroke-width="0.85" d="M230.53 261V257.7M230.53 9V12.8"/><path stroke-width="0.85" d="M287.55 261V257.7M287.55 9V12.8"/><path stroke-width="0.85" d="M344.57 261V257.7M344.57 9V12.8"/><path d="M34 258.80H37.9M398 258.80H394.1"/><path d="M34 207.86H37.9M398 207.86H394.1"/><path d="M34 156.92H37.9M398 156.92H394.1"/><path d="M34 105.98H37.9M398 105.98H394.1"/><path d="M34 55.04H37.9M398 55.04H394.1"/></g>
<g filter="url(#idf)"><g><text x="60.07" y="275.4" text-anchor="middle">-4</text><text x="117.09" y="275.4" text-anchor="middle">-2</text><text x="175.41" y="275.4" text-anchor="middle">0</text><text x="232.23" y="275.4" text-anchor="middle">2</text><text x="289.45" y="275.4" text-anchor="middle">4</text><text x="346.47" y="275.4" text-anchor="middle">6</text><text x="28.3" y="263.75" text-anchor="end">0</text><text x="28.3" y="212.81" text-anchor="end">1</text><text x="28.3" y="161.87" text-anchor="end">2</text><text x="28.3" y="110.93" text-anchor="end">3</text><text x="28.3" y="59.99" text-anchor="end">4</text></g>
<text x="50.1" y="46.7" style="font-size:15px;letter-spacing:0.12px">Exact</text>
<rect x="96" y="38" width="40.3" height="8" fill="#fe4040"/>
<path d="M96 60H136.4" stroke="#000" stroke-width="1.35"/>
<path d="M96 82.85H136.7" stroke="#0000ff" stroke-width="1.6" stroke-dasharray="1.15 1.1"/>
<text x="71.8" y="63.8" class="ser" style="font-size:15px;stroke-width:0.1px">&#931;</text><text x="80.5" y="67.7" style="font-size:11.4px">3</text>
<text x="58.2" y="87.8" class="ser" style="font-size:15px;stroke-width:0.1px">&#931;</text><text x="67.7" y="91.8" style="font-size:11.4px">1</text><text x="67" y="81.1" style="font-size:11.8px">GW</text>
<text transform="translate(316.3,85.6) scale(0.9,1)" x="0" y="0" style="font-size:15px;letter-spacing:0.68px">U / t = 4</text>
<g transform="translate(13.7,149.4) rotate(-90)" style="font-size:15px"><text x="0" y="0" style="font-size:15px">A(</text><text transform="translate(14.9,0) scale(0.62,1)" x="0" y="0" style="font-size:15px;stroke-width:0.45px">&#969;</text><text x="21.9" y="0" style="font-size:15px">)</text></g>
<text transform="translate(216.7,289.3) scale(0.93,1)" x="0" y="0" text-anchor="middle" class="ser" style="font-size:16.3px;stroke-width:0.45px">&#969;</text></g>
</svg></body></html>
